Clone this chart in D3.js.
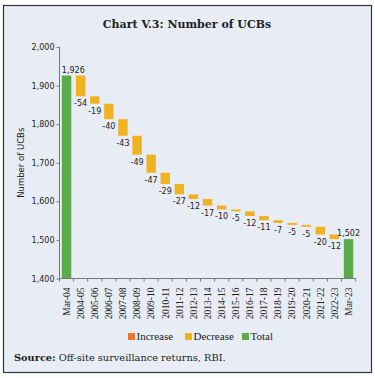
<!DOCTYPE html>
<html><head><meta charset="utf-8">
<script src="https://cdn.jsdelivr.net/npm/d3@7/dist/d3.min.js"></script>
<style>html,body{margin:0;padding:0;background:#fff;}svg{display:block;}</style>
</head><body>
<svg id="c" width="375" height="378"></svg>
<script>
const categories = ["Mar-04","2004-05","2005-06","2006-07","2007-08","2008-09","2009-10","2010-11","2011-12","2012-13","2013-14","2014-15","2015-16","2016-17","2017-18","2018-19","2019-20","2020-21","2021-22","2022-23","Mar-23"];
const values = [1926,-54,-19,-40,-43,-49,-47,-29,-27,-12,-17,-10,-5,-12,-11,-7,-5,-5,-20,-12,1502];
const kinds = ["total","decrease","decrease","decrease","decrease","decrease","decrease","decrease","decrease","decrease","decrease","decrease","decrease","decrease","decrease","decrease","decrease","decrease","decrease","decrease","total"];
const yTicks = [1400,1500,1600,1700,1800,1900,2000];
const legendItems = ["Increase","Decrease","Total"];
const colors = {increase:"#e87a2c", decrease:"#efb322", total:"#5aab4b"};

const svg = d3.select("#c");
svg.append("rect").attr("x",3.5).attr("y",5.5).attr("width",368).attr("height",367)
  .attr("fill","#e8edf5").attr("stroke","#333").attr("stroke-width",1.2);

svg.append("text").attr("x",187).attr("y",28).attr("text-anchor","middle")
  .attr("font-family","DejaVu Serif").attr("font-weight","bold").attr("font-size",11)
  .attr("fill","#222").text("Chart V.3: Number of UCBs");

// compute waterfall
let running = 0;
const bars = categories.map((c,i)=>{
  const v = values[i], k = kinds[i];
  let y0, y1;
  if (k==="total"){ y0 = 1400; y1 = v; running = v; }
  else { y0 = running + v; y1 = running; running = running + v; }
  return {c, v, k, lo: Math.min(y0,y1), hi: Math.max(y0,y1)};
});

const x = d3.scaleBand().domain(categories).range([59.5,355.6]).paddingInner(0.33).paddingOuter(0.165);
const y = d3.scaleLinear().domain([1400,2000]).range([278.5,47]);

// bars
svg.append("g").selectAll("rect").data(bars).join("rect")
  .attr("x",d=>x(d.c)).attr("width",x.bandwidth())
  .attr("y",d=>y(d.hi)).attr("height",d=>y(d.lo)-y(d.hi))
  .attr("fill",d=>colors[d.k]);

// value labels
svg.append("g").selectAll("text").data(bars).join("text")
  .attr("font-family","DejaVu Sans").attr("font-size",8).attr("fill","#222")
  .attr("text-anchor",(d,i)=> i===0 ? "start" : "middle")
  .attr("x",(d,i)=> i===0 ? x(d.c) : x(d.c)+x.bandwidth()/2)
  .attr("y",d=> d.k==="total" ? y(d.hi)-3 : y(d.lo)+10)
  .text(d=> d.k==="total" ? d3.format(",")(d.v) : d.v);

// y axis
const ya = svg.append("g").attr("transform","translate(59.5,0)")
  .call(d3.axisLeft(y).tickValues(yTicks).tickFormat(d3.format(",")).tickSize(3).tickPadding(2));
ya.select(".domain").attr("stroke","#777").attr("d","M0,"+y(2000)+"V"+y(1400));
ya.selectAll(".tick line").attr("stroke","#777");
ya.selectAll(".tick text").attr("font-family","DejaVu Sans").attr("font-size",8).attr("fill","#222");

// x axis
const xa = svg.append("g").attr("transform","translate(0,"+y(1400)+")");
xa.append("line").attr("x1",59.5).attr("x2",x.range()[1]).attr("stroke","#777");
const step = x.step();
const bounds = d3.range(categories.length+1).map(i=> x.range()[0] + i*step);
xa.selectAll("line.t").data(bounds).join("line").attr("class","t")
  .attr("x1",d=>d).attr("x2",d=>d).attr("y1",0).attr("y2",3).attr("stroke","#777");
xa.selectAll("text").data(categories).join("text")
  .attr("transform",d=>"translate("+(x(d)+x.bandwidth()/2)+",9) rotate(-90)")
  .attr("text-anchor","end").attr("dy","0.35em")
  .attr("font-family","Liberation Serif").attr("font-size",9.5).attr("fill","#222")
  .text(d=>d);

// y axis title
svg.append("text").attr("transform","translate(24,"+y(1700)+") rotate(-90)")
  .attr("text-anchor","middle").attr("font-family","DejaVu Sans").attr("font-size",8.5)
  .attr("fill","#222").text("Number of UCBs");

// legend
const lx = [128,185,242];
const lg = svg.append("g");
legendItems.forEach((t,i)=>{
  lg.append("rect").attr("x",lx[i]).attr("y",333).attr("width",7).attr("height",7)
    .attr("fill",colors[t.toLowerCase()]);
  lg.append("text").attr("x",lx[i]+8.5).attr("y",340).attr("font-family","Liberation Serif")
    .attr("font-size",11).attr("fill","#222").text(t);
});

// source
const st = svg.append("text").attr("x",14).attr("y",361).attr("font-family","DejaVu Serif")
  .attr("font-size",9.8).attr("fill","#222");
st.append("tspan").attr("font-weight","bold").text("Source:");
st.append("tspan").text(" Off-site surveillance returns, RBI.");
</script>
</body></html>
